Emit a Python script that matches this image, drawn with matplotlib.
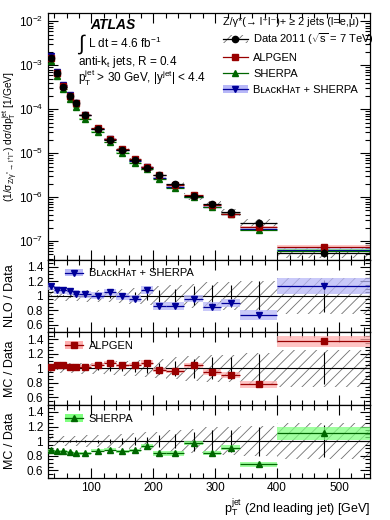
import numpy as np
import matplotlib.pyplot as plt
from matplotlib.patches import Patch
from matplotlib.lines import Line2D
from matplotlib.ticker import MultipleLocator, LogLocator, NullFormatter

plt.rcParams['font.family'] = ['Liberation Sans', 'DejaVu Sans']
plt.rcParams['mathtext.fontset'] = 'custom'
plt.rcParams['mathtext.rm'] = 'Liberation Sans'
plt.rcParams['mathtext.it'] = 'Liberation Sans'
plt.rcParams['mathtext.bf'] = 'Liberation Sans:bold'
plt.rcParams['hatch.linewidth'] = 0.6
plt.rcParams['font.size'] = 8.5

# bin edges in pT (GeV)
edges = np.array([30, 40, 50, 60, 70, 80, 100, 120, 140, 160, 180, 200, 220,
                  250, 280, 310, 340, 400, 550])

# measured cross section [1/GeV]
data = np.array([1.47e-3, 6.6e-4, 3.3e-4, 2.0e-4, 1.37e-4, 7.4e-5, 3.6e-5,
                 2.0e-5, 1.19e-5, 7.0e-6, 4.6e-6, 3.2e-6, 2.0e-6, 1.07e-6,
                 7.0e-7, 4.6e-7, 2.65e-7, 5.5e-8])
# relative uncertainties of data
data_tot = np.array([0.07, 0.07, 0.07, 0.07, 0.07, 0.08, 0.08, 0.09, 0.10,
                     0.11, 0.12, 0.13, 0.15, 0.17, 0.19, 0.19, 0.21, 0.25])
data_stat = np.array([0.005, 0.006, 0.008, 0.01, 0.012, 0.015, 0.02, 0.03,
                      0.04, 0.05, 0.06, 0.08, 0.10, 0.13, 0.15, 0.15, 0.20, 0.22])

# prediction / data ratios
bh = np.array([1.13, 1.08, 1.075, 1.065, 1.03, 1.02, 1.0, 1.05, 0.995, 0.96,
               1.08, 0.86, 0.86, 0.96, 0.85, 0.90, 0.73, 1.14])
bh_unc = np.array([0.05, 0.05, 0.05, 0.05, 0.05, 0.05, 0.05, 0.05, 0.05, 0.05,
                   0.05, 0.05, 0.05, 0.05, 0.06, 0.06, 0.07, 0.11])
alp = np.array([1.02, 1.04, 1.04, 1.025, 1.02, 1.025, 1.05, 1.075, 1.04, 1.05,
                1.08, 0.98, 0.965, 1.04, 0.95, 0.91, 0.78, 1.37])
alp_unc = np.array([0.02, 0.02, 0.02, 0.02, 0.02, 0.02, 0.02, 0.02, 0.02, 0.02,
                    0.03, 0.03, 0.03, 0.03, 0.04, 0.04, 0.05, 0.07])
sh = np.array([0.876, 0.862, 0.862, 0.845, 0.83, 0.83, 0.867, 0.883, 0.862,
               0.873, 0.935, 0.83, 0.83, 0.97, 0.84, 0.91, 0.68, 1.11])
sh_unc = np.array([0.02, 0.02, 0.02, 0.02, 0.02, 0.02, 0.02, 0.02, 0.02, 0.02,
                   0.03, 0.03, 0.03, 0.03, 0.03, 0.03, 0.03, 0.09])

x = 0.5 * (edges[1:] + edges[:-1])
hw = 0.5 * (edges[1:] - edges[:-1])
w = edges[1:] - edges[:-1]

RED, RED_B = '#990000', '#ffb0b0'
GRN, GRN_B = '#006600', '#80ff80'
BLU, BLU_B = '#000099', '#b8b8f8'
HATCH_C = '#707070'
BH_NAME = 'B\u029f\u1d00\u1d04\u1d0bH\u1d00\u1d1b + SHERPA'

fig = plt.figure(figsize=(3.9, 5.2), dpi=100)
L, W = 48 / 390, 322 / 390
ax = fig.add_axes([L, 0.5006, W, 0.4744])
r1 = fig.add_axes([L, 0.3615, W, 0.1391])
r2 = fig.add_axes([L, 0.2217, W, 0.1398])
r3 = fig.add_axes([L, 0.0817, W, 0.1400])


def style(a):
    a.tick_params(which='both', direction='in', top=True, right=True)
    a.tick_params(which='major', length=7, width=0.8)
    a.tick_params(which='minor', length=3.5, width=0.8)
    a.set_xlim(30, 550)
    a.xaxis.set_major_locator(MultipleLocator(100))
    a.xaxis.set_minor_locator(MultipleLocator(20))
    for s in a.spines.values():
        s.set_linewidth(0.9)


# ---- main panel ----
ax.set_yscale('log')
ax.bar(edges[:-1], 2 * data * data_tot, w, bottom=data * (1 - data_tot),
       align='edge', fill=False, hatch='///', edgecolor=HATCH_C, lw=0, zorder=1)
for r, ru, c, cb, m in [(bh, bh_unc, BLU, BLU_B, 'v'), (sh, sh_unc, GRN, GRN_B, '^'),
                        (alp, alp_unc, RED, RED_B, 's')]:
    ax.bar(edges[:-1], 2 * data * r * ru, w, bottom=data * r * (1 - ru),
           align='edge', color=cb, lw=0, alpha=0.7, zorder=2)
    ax.errorbar(x, data * r, xerr=hw, fmt=m, color=c, ms=4.5, lw=0.9,
                capsize=0, zorder=3)
ax.errorbar(x, data, xerr=hw, yerr=data * data_stat, fmt='o', color='k',
            ms=4.5, lw=0.9, capsize=0, zorder=4)
ax.set_ylim(3.8e-8, 1.55e-2)
style(ax)
ax.yaxis.set_major_locator(LogLocator(base=10, numticks=15))
ax.yaxis.set_minor_locator(LogLocator(base=10, subs=np.arange(2, 10), numticks=15))
ax.yaxis.set_minor_formatter(NullFormatter())
ax.set_xticklabels([])
ax.set_ylabel(r'$(1/\sigma_{Z/\gamma^{*}\rightarrow l^{+}l^{-}})$ d$\sigma$/d$p_{T}^{jet}$ [1/GeV]',
              fontsize=7.4, labelpad=2)
ax.yaxis.set_label_coords(-0.086, 0.5)

ax.text(0.13, 0.951, 'ATLAS', transform=ax.transAxes, fontsize=10,
        fontweight='bold', style='italic', va='center')
ax.text(0.093, 0.875, '\u222b', transform=ax.transAxes, fontsize=15, va='center')
ax.text(0.125, 0.877, r'L dt = 4.6 fb$^{-1}$', transform=ax.transAxes, va='center')
ax.text(0.093, 0.803, 'anti-k$_{t}$ jets, R = 0.4', transform=ax.transAxes, va='center')
ax.text(0.093, 0.735, r'p$_{T}^{jet}$ > 30 GeV, |y$^{jet}$| < 4.4',
        transform=ax.transAxes, va='center')

ax.text(0.545, 0.965, 'Z/\u03b3*(\u2192 l\u207al\u207b)+ \u2265 2 jets (l=e,\u03bc)',
        transform=ax.transAxes, va='center', fontsize=7.8)
h_data = (Patch(facecolor='none', edgecolor=HATCH_C, hatch='///', lw=0),
          Line2D([], [], color='k', marker='o', ms=4.5, lw=0.9))
h_alp = Line2D([], [], color=RED, marker='s', ms=4.5, lw=0.9)
h_sh = Line2D([], [], color=GRN, marker='^', ms=4.5, lw=0.9)
h_bh = (Patch(facecolor=BLU_B, lw=0), Line2D([], [], color=BLU, marker='v', ms=4.5, lw=0.9))
ax.legend([h_data, h_alp, h_sh, h_bh],
          [r'Data 2011 ($\sqrt{s}$ = 7 TeV)', 'ALPGEN', 'SHERPA', BH_NAME],
          loc='upper left', bbox_to_anchor=(0.53, 0.945), frameon=False,
          fontsize=8, handlelength=2.2, labelspacing=0.55, borderaxespad=0,
          handletextpad=0.5)

# ---- ratio panels ----
for a, r, ru, c, cb, m, lab, ylab in [
        (r1, bh, bh_unc, BLU, BLU_B, 'v', BH_NAME, 'NLO / Data'),
        (r2, alp, alp_unc, RED, RED_B, 's', 'ALPGEN', 'MC / Data'),
        (r3, sh, sh_unc, GRN, GRN_B, '^', 'SHERPA', 'MC / Data')]:
    a.bar(edges[:-1], 2 * data_tot, w, bottom=1 - data_tot, align='edge',
          fill=False, hatch='///', edgecolor=HATCH_C, lw=0, zorder=1)
    a.axhline(1, color='k', lw=0.8, zorder=2)
    a.errorbar(x, np.ones_like(x), yerr=data_stat, fmt='none', ecolor='k',
               lw=0.8, capsize=0, zorder=2)
    a.bar(edges[:-1], 2 * ru, w, bottom=r - ru, align='edge', color=cb,
          lw=0, alpha=0.75, zorder=3)
    a.errorbar(x, r, xerr=hw, fmt=m, color=c, ms=4.5, lw=0.9, capsize=0, zorder=4)
    a.set_ylim(0.5, 1.5)
    style(a)
    a.yaxis.set_minor_locator(MultipleLocator(0.05))
    a.set_yticks([0.6, 0.8, 1.0, 1.2, 1.4])
    a.set_yticklabels(['0.6', '0.8', '1', '1.2', '1.4'])
    a.set_ylabel(ylab, fontsize=9)
    a.yaxis.set_label_coords(-0.1, 0.5)
    hb = (Patch(facecolor=cb, lw=0), Line2D([], [], color=c, marker=m, ms=4.5, lw=0.9))
    a.legend([hb], [lab], loc='upper left', bbox_to_anchor=(0.04, 0.94),
             frameon=False, fontsize=8, handlelength=1.6, borderaxespad=0,
             handletextpad=0.5)
    if a is not r3:
        a.set_xticklabels([])

r3.set_xlabel(r'p$_{T}^{jet}$ (2nd leading jet) [GeV]', fontsize=9, loc='right', labelpad=2)

fig.savefig('out.png', dpi=100)
